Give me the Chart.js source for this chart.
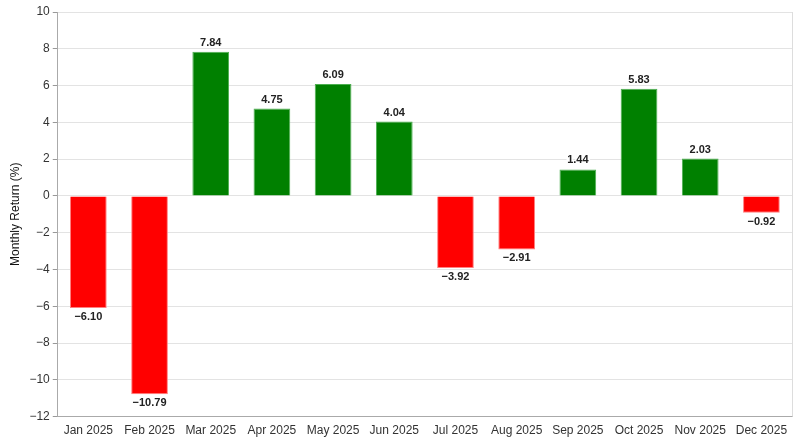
<!DOCTYPE html>
<html><head><meta charset="utf-8">
<script src="https://cdn.jsdelivr.net/npm/chart.js@4.4.1/dist/chart.umd.min.js"></script>
<style>html,body{margin:0;padding:0;background:#fff}#wrap{width:800px;height:447px}</style>
</head><body><div id="wrap"><canvas id="c" width="800" height="447"></canvas></div>
<script>
const categories = ["Jan 2025","Feb 2025","Mar 2025","Apr 2025","May 2025","Jun 2025","Jul 2025","Aug 2025","Sep 2025","Oct 2025","Nov 2025","Dec 2025"];
const returnsPct = [-6.10,-10.79,7.84,4.75,6.09,4.04,-3.92,-2.91,1.44,5.83,2.03,-0.92];
const yTicks = [-12,-10,-8,-6,-4,-2,0,2,4,6,8,10];

const fmt = v => (v < 0 ? "\u2212" + Math.abs(v).toFixed(2) : v.toFixed(2));
const fmtTick = v => (v < 0 ? "\u2212" + Math.abs(v) : String(v));
const FAM = '"Liberation Sans", Arial, sans-serif';

const labelPlugin = {
  id: 'barLabels',
  afterDatasetsDraw(chart) {
    const ctx = chart.ctx;
    const meta = chart.getDatasetMeta(0);
    ctx.save();
    ctx.font = 'bold 11px ' + FAM;
    ctx.textAlign = 'center';
    ctx.textBaseline = 'middle';
    meta.data.forEach((bar, i) => {
      const v = returnsPct[i];
      const y = v >= 0 ? bar.y - 9 : bar.y + 9;
      const t = fmt(v);
      ctx.lineWidth = 3;
      ctx.strokeStyle = 'rgba(255,255,255,0.9)';
      ctx.strokeText(t, bar.x, y);
      ctx.fillStyle = '#222';
      ctx.fillText(t, bar.x, y);
    });
    ctx.restore();
  }
};

const borderPlugin = {
  id: 'rightBorder',
  beforeDatasetsDraw(chart) {
    const a = chart.chartArea, ctx = chart.ctx;
    ctx.save();
    ctx.strokeStyle = '#dddddd';
    ctx.lineWidth = 1;
    ctx.beginPath();
    ctx.moveTo(Math.round(a.right) + 0.5, a.top);
    ctx.lineTo(Math.round(a.right) + 0.5, a.bottom);
    ctx.stroke();
    ctx.restore();
  }
};

new Chart(document.getElementById('c'), {
  type: 'bar',
  data: {
    labels: categories,
    datasets: [{
      data: returnsPct,
      backgroundColor: returnsPct.map(v => v >= 0 ? '#008000' : '#ff0000'),
      borderColor: returnsPct.map(v => v >= 0 ? '#4caf50' : '#ff8080'),
      borderWidth: 1,
      barPercentage: 0.6,
      categoryPercentage: 1.0
    }]
  },
  options: {
    responsive: false,
    animation: false,
    devicePixelRatio: 1,
    layout: { padding: { left: 8, right: 8, top: 12, bottom: 7 } },
    plugins: { legend: { display: false }, tooltip: { enabled: false } },
    scales: {
      x: {
        grid: { display: false, drawTicks: true, tickLength: 5, color: '#999' },
        border: { display: true, color: '#aaaaaa', width: 1 },
        ticks: { color: '#333', font: { size: 12, family: FAM }, padding: 2, maxRotation: 0, autoSkip: false }
      },
      y: {
        min: -12, max: 10,
        afterBuildTicks: s => { s.ticks = yTicks.map(v => ({ value: v })); },
        grid: { color: '#e3e3e3', tickLength: 5, tickColor: '#999', drawTicks: true },
        border: { display: true, color: '#aaaaaa', width: 1 },
        ticks: { color: '#333', font: { size: 12, family: FAM }, padding: 3, callback: v => fmtTick(v) },
        title: { display: true, text: 'Monthly Return (%)', color: '#111', font: { size: 12, family: FAM }, padding: { top: 0, bottom: 4 } }
      }
    }
  },
  plugins: [borderPlugin, labelPlugin]
});
</script></body></html>
